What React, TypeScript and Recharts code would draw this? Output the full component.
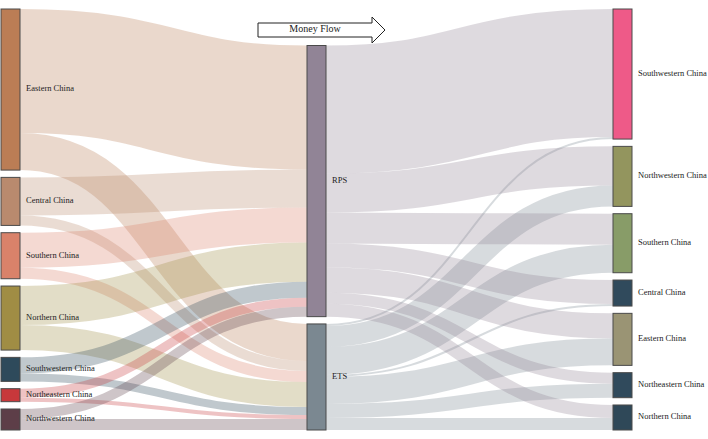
import React from "react";
import { Sankey } from "recharts";

// columns of the flow: payer regions -> mechanism -> recipient regions
const payers = ["Eastern China", "Central China", "Southern China", "Northern China", "Southwestern China", "Northeastern China", "Northwestern China"];
const mechanisms = ["RPS", "ETS"];
const recipients = ["Southwestern China", "Northwestern China", "Southern China", "Central China", "Eastern China", "Northeastern China", "Northern China"];

const payerToRps = [124, 38, 35, 39, 16, 9, 10];
const payerToEts = [37, 10, 11, 25, 8, 4, 11];
const rpsToRecipient = [128, 39, 31, 24, 25, 11, 13];
const etsToRecipient = [2, 21, 28, 2, 27, 14, 12];

const payerColors = ["#bb7d55", "#b98a6e", "#d9826a", "#a08d44", "#2e4a5b", "#c7383b", "#5d3e48"];
const mechanismColors = ["#918496", "#7b8891"];
const recipientColors = ["#ee5a88", "#93955e", "#889c68", "#304a5c", "#9a9474", "#304a5c", "#2f4858"];

const NODE_PADDING = 7.3;
const NODE_WIDTH = 19;
const FONT = "'Liberation Serif', 'Times New Roman', 'DejaVu Serif', serif";

const nodes = [...payers, ...mechanisms, ...recipients].map((name) => ({ name }));
const nodeColors = [...payerColors, ...mechanismColors, ...recipientColors];
const midStart = payers.length;
const recStart = payers.length + mechanisms.length;
const isMiddle = (i: number) => i >= midStart && i < recStart;

const links: { source: number; target: number; value: number }[] = [];
payers.forEach((_, i) => {
    links.push({ source: i, target: midStart, value: payerToRps[i] });
    links.push({ source: i, target: midStart + 1, value: payerToEts[i] });
});
recipients.forEach((_, i) => {
    links.push({ source: midStart, target: recStart + i, value: rpsToRecipient[i] });
    links.push({ source: midStart + 1, target: recStart + i, value: etsToRecipient[i] });
});

// middle column has fewer nodes, so it is pushed to the bottom like the original
const midShift = (payers.length - mechanisms.length) * NODE_PADDING;

function FlowNode(props: any) {
    const { x, y, width, height, index, payload } = props;
    const dy = isMiddle(index) ? midShift : 0;
    return (
        <g>
            <rect x={x} y={y + dy} width={width} height={height} fill={nodeColors[index]} stroke="#4a4a4a" strokeWidth={1} />
            <text
                x={x + width + 6}
                y={y + dy + height / 2}
                dominantBaseline="middle"
                style={{ fontFamily: FONT, fontSize: 8.5 }}
                fill="#222"
            >
                {payload.name}
            </text>
        </g>
    );
}

function FlowLink(props: any) {
    const { sourceX, targetX, sourceY, targetY, sourceControlX, targetControlX, linkWidth, index } = props;
    const l = links[index];
    const sy = sourceY + (isMiddle(l.source) ? midShift : 0);
    const ty = targetY + (isMiddle(l.target) ? midShift : 0);
    return (
        <path
            d={`M${sourceX},${sy} C${sourceControlX},${sy} ${targetControlX},${ty} ${targetX},${ty}`}
            fill="none"
            stroke={nodeColors[l.source]}
            strokeOpacity={0.3}
            strokeWidth={linkWidth}
        />
    );
}

export default function App() {
    return (
        <div style={{ position: "absolute", left: 0, top: 0, width: 708, height: 439, background: "#fff", fontFamily: FONT }}>
            <Sankey
                width={708}
                height={439}
                data={{ nodes, links }}
                nodePadding={NODE_PADDING}
                nodeWidth={NODE_WIDTH}
                linkCurvature={0.5}
                iterations={0}
                sort={false}
                margin={{ top: 9, right: 76, bottom: 9, left: 1 }}
                node={<FlowNode />}
                link={<FlowLink />}
            />
            <svg width={708} height={439} style={{ position: "absolute", left: 0, top: 0, pointerEvents: "none" }}>
                <path d="M258,23 H372 V17 L385,30 L372,43 V37 H258 Z" fill="#fff" stroke="#222" strokeWidth={1} />
                <text x={315} y={30} textAnchor="middle" dominantBaseline="middle" style={{ fontFamily: FONT, fontSize: 10 }} fill="#222">
                    Money Flow
                </text>
            </svg>
        </div>
    );
}
